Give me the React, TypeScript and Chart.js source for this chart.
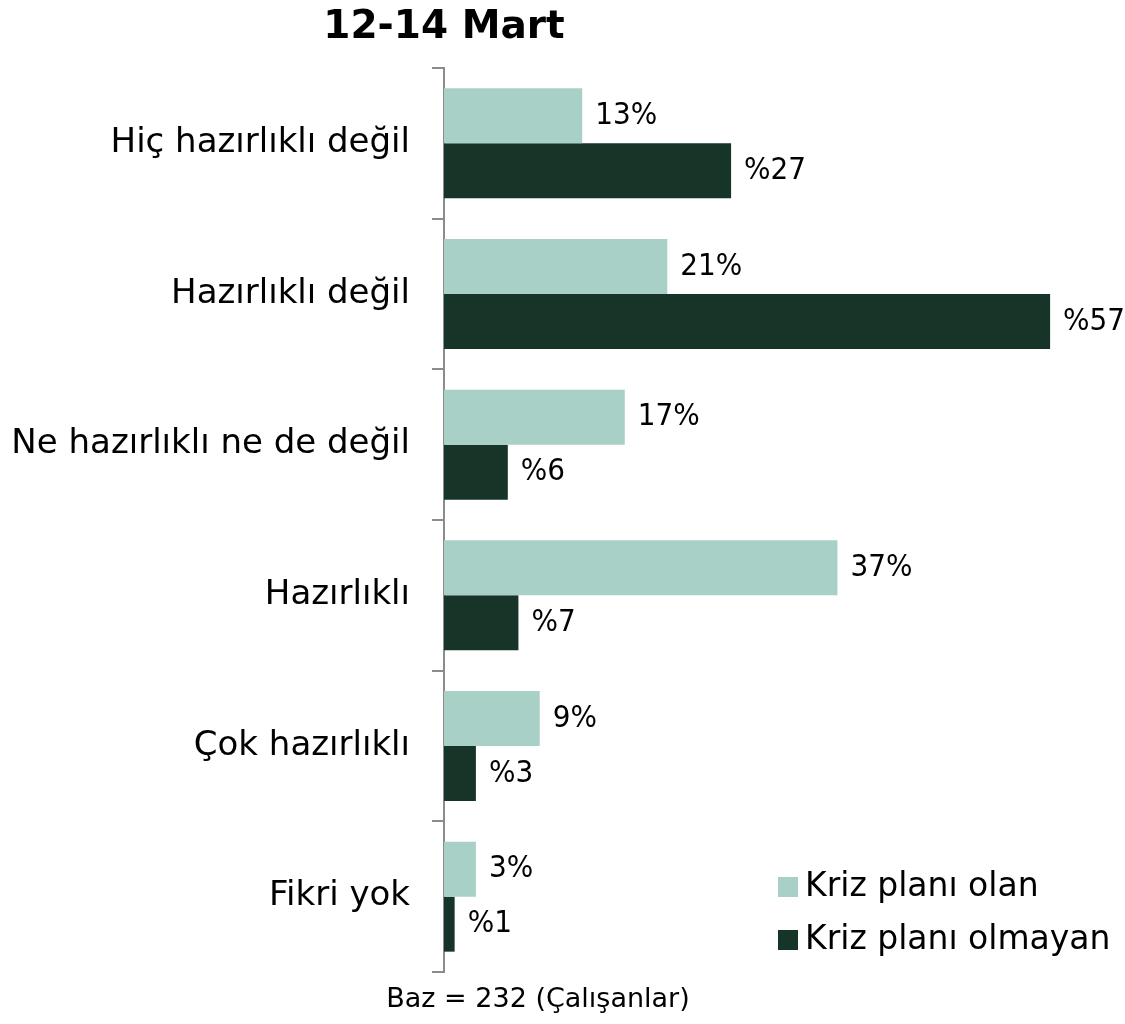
import React, { useEffect, useRef } from "react";
import { Chart, registerables } from "chart.js";

Chart.register(...registerables);

const titleText = "12-14 Mart";
const footnote = "Baz = 232 (Çalışanlar)";
const categories = [
  "Hiç hazırlıklı değil",
  "Hazırlıklı değil",
  "Ne hazırlıklı ne de değil",
  "Hazırlıklı",
  "Çok hazırlıklı",
  "Fikri yok",
];
const seriesNames = ["Kriz planı olan", "Kriz planı olmayan"];
const withPlan = [13, 21, 17, 37, 9, 3];
const withoutPlan = [27, 57, 6, 7, 3, 1];
const colors = ["#A8D0C6", "#163528"];
const FONT = "'DejaVu Sans', sans-serif";
const FONT_C = "'DejaVu Sans Condensed', 'DejaVu Sans', sans-serif";

export default function App() {
  const ref = useRef<HTMLCanvasElement | null>(null);
  useEffect(() => {
    if (!ref.current) return;
    const labelPlugin = {
      id: "labels",
      afterDatasetsDraw(chart: any) {
        const ctx = chart.ctx;
        ctx.save();
        ctx.font = `31px ${FONT_C}`;
        ctx.fillStyle = "#000";
        ctx.textAlign = "left";
        ctx.textBaseline = "middle";
        chart.data.datasets.forEach((ds: any, di: number) => {
          const meta = chart.getDatasetMeta(di);
          meta.data.forEach((el: any, i: number) => {
            const v = ds.data[i];
            const t = di === 0 ? `${v}%` : `%${v}`;
            ctx.fillText(t, el.x + 13, el.y);
          });
        });
        ctx.restore();
      },
      afterDraw(chart: any) {
        const ctx = chart.ctx;
        const ca = chart.chartArea;
        ctx.save();
        ctx.fillStyle = "#000";
        ctx.font = `bold 39px ${FONT}`;
        ctx.textAlign = "center";
        ctx.textBaseline = "middle";
        ctx.fillText(titleText, ca.left, 28);
        ctx.font = `27px ${FONT}`;
        ctx.fillText(footnote, 538, 1000);
        // legend
        ctx.font = `33px ${FONT}`;
        ctx.textAlign = "left";
        chart.data.datasets.forEach((ds: any, di: number) => {
          const y = 887 + di * 53;
          ctx.fillStyle = ds.backgroundColor;
          ctx.fillRect(778, y - 10, 20, 20);
          ctx.fillStyle = "#000";
          ctx.fillText(ds.label, 805, y);
        });
        ctx.restore();
      },
    };
    const chart = new Chart(ref.current, {
      type: "bar",
      data: {
        labels: categories,
        datasets: [
          { label: seriesNames[0], data: withPlan, backgroundColor: colors[0] },
          { label: seriesNames[1], data: withoutPlan, backgroundColor: colors[1] },
        ],
      },
      options: {
        indexAxis: "y",
        animation: false,
        responsive: true,
        maintainAspectRatio: false,
        layout: { padding: { top: 68, bottom: 52, left: 0, right: 43 } },
        datasets: { bar: { categoryPercentage: 0.73, barPercentage: 1 } },
        plugins: { legend: { display: false }, tooltip: { enabled: false }, title: { display: false } },
        scales: {
          x: { display: false, min: 0, max: 60 },
          y: {
            afterFit(scale: any) {
              scale.width = 444;
            },
            grid: { offset: true, drawOnChartArea: false, drawTicks: true, tickLength: 12, color: "#8c8c8c", lineWidth: 2 },
            border: { display: true, color: "#8c8c8c", width: 2 },
            ticks: { padding: 22, color: "#000", font: { family: FONT, size: 34 } },
          },
        },
      },
      plugins: [labelPlugin],
    });
    return () => chart.destroy();
  }, []);
  return (
    <div style={{ position: "absolute", left: 0, top: 0, width: 1125, height: 1024 }}>
      <canvas ref={ref} />
    </div>
  );
}
